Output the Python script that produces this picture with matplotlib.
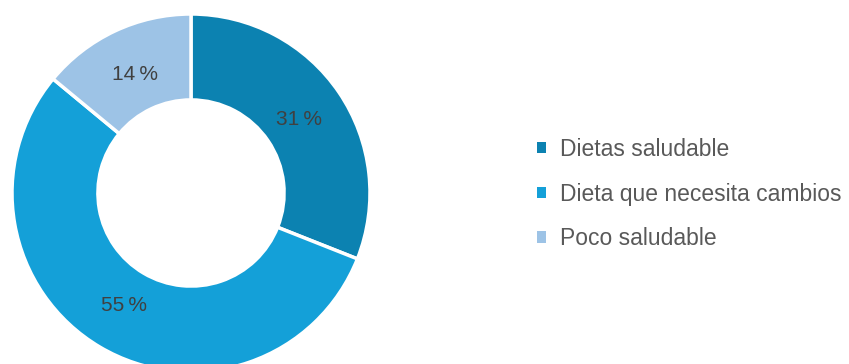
import numpy as np
import matplotlib.pyplot as plt
from matplotlib.patches import Patch

plt.rcParams['font.family'] = ['Liberation Sans', 'DejaVu Sans']

categories = ['Dietas saludable', 'Dieta que necesita cambios', 'Poco saludable']
values = [31, 55, 14]
colors = ['#0C82B1', '#14A0D8', '#9DC3E6']

W, H = 849, 364
fig = plt.figure(figsize=(W / 100, H / 100), dpi=100)

# donut centre and radius in pixels (from top-left)
cx, cy, r = 191, 193, 179
ax = fig.add_axes([(cx - r) / W, (H - cy - r) / H, 2 * r / W, 2 * r / H])

wedges, texts = ax.pie(values, colors=colors, startangle=90, counterclock=False,
                       radius=1.0, wedgeprops=dict(width=0.48, edgecolor='white', linewidth=2.5))
ax.set_xlim(-1, 1)
ax.set_ylim(-1, 1)
ax.set_aspect('equal')
ax.axis('off')

# percentage labels in the ring
start = 90
total = sum(values)
for v in values:
    span = 360 * v / total
    mid = np.deg2rad(start - span / 2)
    ax.text(0.73 * np.cos(mid), 0.73 * np.sin(mid), f'{v}\u2009%', ha='center', va='center',
            fontsize=15, color='#404040')
    start -= span

handles = [Patch(facecolor=c, edgecolor='none') for c in colors]
fig.legend(handles, categories, loc='center left', bbox_to_anchor=(516 / W, 1 - 194 / H),
           frameon=False, fontsize=16.5, labelcolor='#595959', handlelength=0.4, handleheight=0.4,
           handletextpad=0.6, labelspacing=0.95)

fig.savefig('out.png', dpi=100)
